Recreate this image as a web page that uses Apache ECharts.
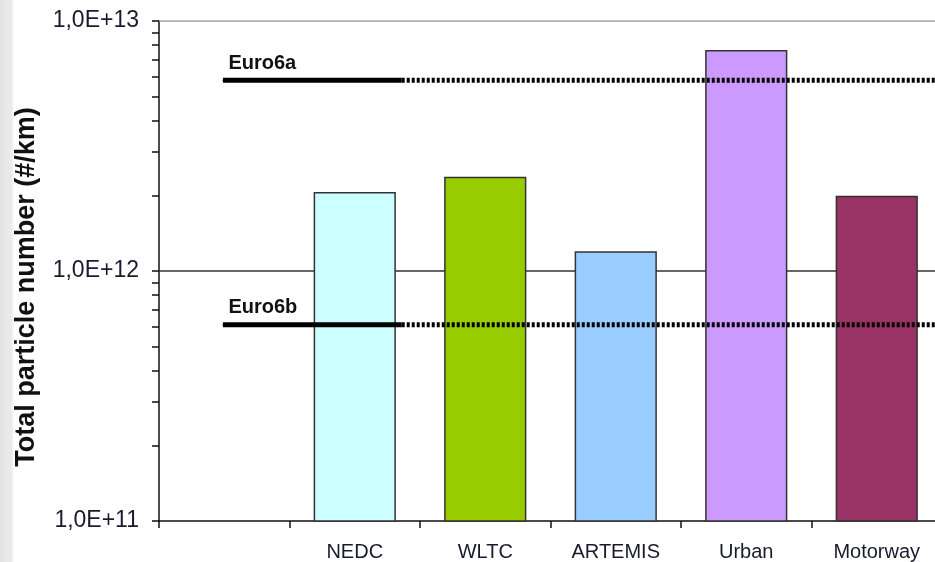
<!DOCTYPE html>
<html>
<head>
<meta charset="utf-8">
<script src="https://cdn.jsdelivr.net/npm/echarts@6/dist/echarts.min.js"></script>
<style>
  html, body { margin: 0; padding: 0; }
  body {
    width: 935px; height: 562px; overflow: hidden;
    background: linear-gradient(to right, #e2e2e2 0px, #ececec 12px, #ffffff 14px);
  }
  #main { width: 935px; height: 562px; }
</style>
</head>
<body>
<div id="main"></div>
<script>
// categories (first slot is empty in the original)
var categories = ["", "NEDC", "WLTC", "ARTEMIS", "Urban", "Motorway"];
var pnValues = [null, 2.07e12, 2.38e12, 1.2e12, 7.66e12, 2.0e12];
var barColors = ["#ffffff", "#ccffff", "#99cc00", "#99ccff", "#cc99ff", "#993366"];

// limit lines: solid part then dotted part (x in category units)
var limitNames = ["Euro6a", "Euro6b"];
var limitValues = [5.8e12, 6.1e11];
var solidFrom = 0.49, solidTo = 1.86, dottedTo = 6;

// axis ticks
var labelTicks = [1e11, 1e12, 1e13];
var minorTicks = [1e11, 2e11, 3e11, 4e11, 5e11, 6e11, 7e11, 8e11, 9e11,
                  1e12, 2e12, 3e12, 4e12, 5e12, 6e12, 7e12, 8e12, 9e12, 1e13];
var gridLines = [1e12, 1e13];

var font = "'Liberation Sans', Arial, sans-serif";
var myChart = echarts.init(document.getElementById("main"));

var series = [];

// gridlines (behind bars)
gridLines.forEach(function (g, i) {
  series.push({
    type: "line",
    xAxisIndex: 1,
    z: 1,
    silent: true,
    symbol: "none",
    lineStyle: { color: i === 0 ? "#333333" : "#9a9a9a", width: i === 0 ? 1.3 : 1.6 },
    data: [[0, g], [dottedTo, g]]
  });
});

series.push({
  type: "bar",
  xAxisIndex: 0,
  z: 2,
  barWidth: "63%",
  data: pnValues.map(function (v, i) {
    return {
      value: v,
      itemStyle: { color: barColors[i], borderColor: "#333333", borderWidth: 1.5 }
    };
  })
});

limitValues.forEach(function (v, i) {
  series.push({
    type: "line",
    xAxisIndex: 1,
    z: 3,
    silent: true,
    symbol: "circle",
    symbolSize: 1,
    itemStyle: { color: "#000" },
    lineStyle: { color: "#000", width: 5, cap: "butt" },
    data: [
      {
        value: [solidFrom, v],
        label: {
          show: true,
          formatter: limitNames[i],
          position: "right",
          offset: [0, -17],
          color: "#111",
          fontFamily: font,
          fontWeight: "bold",
          fontSize: 20
        }
      },
      [solidTo, v]
    ]
  });
  series.push({
    type: "line",
    xAxisIndex: 1,
    z: 3,
    silent: true,
    symbol: "none",
    lineStyle: { color: "#000", width: 5, type: [3, 2], cap: "butt" },
    data: [[solidTo, v], [dottedTo, v]]
  });
});

var option = {
  animation: false,
  backgroundColor: "transparent",
  grid: { left: 159, top: 21, width: 783, height: 500, outerBoundsMode: "none", containLabel: false },
  xAxis: [
    {
      type: "category",
      data: categories,
      boundaryGap: true,
      axisLine: { lineStyle: { color: "#111", width: 1.5 } },
      axisTick: { show: true, interval: 0, length: 7, lineStyle: { color: "#111", width: 1.5 } },
      axisLabel: { interval: 0, margin: 21, color: "#1a1a2e", fontFamily: font, fontSize: 20 },
      splitLine: { show: false }
    },
    {
      type: "value",
      min: 0,
      max: dottedTo,
      show: false
    }
  ],
  yAxis: {
    type: "log",
    logBase: 10,
    min: 1e11,
    max: 1e13,
    name: "Total particle number (#/km)",
    nameLocation: "middle",
    nameGap: 119,
    nameTextStyle: { color: "#111", fontFamily: font, fontWeight: "bold", fontSize: 27, padding: [0, 32, 0, 0] },
    axisLine: { show: true, lineStyle: { color: "#111", width: 1.5 } },
    axisTick: { show: true, length: 7, customValues: minorTicks, lineStyle: { color: "#111", width: 1.5 } },
    axisLabel: {
      margin: 20,
      customValues: labelTicks,
      color: "#1a1a2e",
      fontFamily: font,
      fontSize: 23,
      formatter: function (v) {
        return "1,0E+" + Math.round(Math.log10(v));
      }
    },
    splitLine: { show: false }
  },
  series: series
};

option && myChart.setOption(option);
</script>
</body>
</html>
